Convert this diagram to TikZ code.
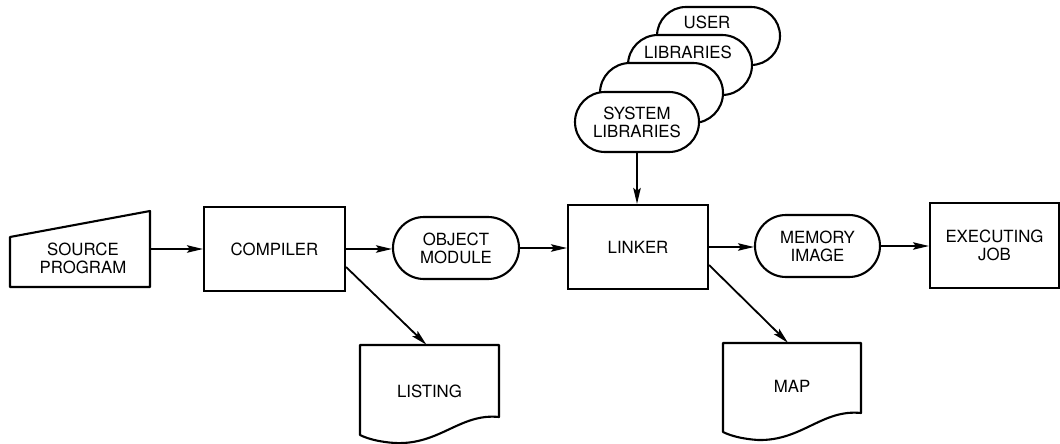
\documentclass[tikz,border=0pt]{standalone}
\usepackage{fontspec}
\setmainfont{TeX Gyre Heros}
\usetikzlibrary{shapes.misc,arrows.meta}
\begin{document}
\begin{tikzpicture}[x=1pt,y=-1pt,
  every node/.style={font=\fontsize{16.8}{18}\selectfont, align=center, inner sep=0pt},
  line/.style={line width=2.1pt, line join=round},
  procbox/.style={draw, line width=2.1pt, rectangle, minimum height=84pt},
  stadium/.style={draw, line width=2.1pt, rounded rectangle, minimum height=62pt, fill=white},
  libbox/.style={draw, line width=2.1pt, rounded rectangle, minimum height=60pt, fill=white},
  arr/.style={line width=1.8pt, -{Stealth[length=16pt,width=7.5pt,inset=3pt]}}]
\useasboundingbox (0,0) rectangle (1060,444);

% source program (manual input shape)
\node[minimum width=140pt, minimum height=76pt] (source) at (80,249) {};
\draw[line] (10,237) -- (150,211) -- (150,287) -- (10,287) -- cycle;
\node (sourcetxt) at (83,258) {SOURCE\\PROGRAM};

\node[procbox, minimum width=141pt] (compiler) at (274.5,249) {COMPILER};
\node[stadium, minimum width=126pt] (object) at (456,248) {OBJECT\\MODULE};
\node[procbox, minimum width=140pt] (linker) at (638,247) {LINKER};
\node[stadium, minimum width=125pt] (memory) at (817.5,246) {MEMORY\\IMAGE};
\node[procbox, minimum width=129pt, minimum height=85pt] (exec) at (994.5,245.5) {EXECUTING\\JOB};

% library stack (back to front)
\node[libbox, minimum width=123pt, minimum height=58pt] (userlib) at (718.5,36) {};
\node (usertxt) at (707,22.5) {USER};
\node[libbox, minimum width=124pt] (liblib) at (690,65) {};
\node (libtxt) at (688,52) {LIBRARIES};
\node[libbox, minimum width=123pt] (blanklib) at (661.5,93) {};
\node[libbox, minimum width=124pt] (syslib) at (637,122) {SYSTEM\\LIBRARIES};

% documents
\node[minimum width=139pt, minimum height=92pt] (listing) at (429.5,391) {LISTING};
\draw[line, shift={(360,345)}] (0,0) -- (139,0) -- (139,72)
  .. controls (100,68) and (80,100) .. (35,98)
  .. controls (20,97) and (8,94) .. (0,90) -- cycle;
\node[minimum width=138pt, minimum height=87pt] (map) at (792,386.5) {MAP};
\draw[line, shift={(723,343)}] (0,0) -- (138,0) -- (138,70)
  .. controls (99,66) and (79,98) .. (35,97)
  .. controls (20,96) and (8,93) .. (0,89) -- cycle;

% connectors
\draw[arr] (source.east) -- (compiler.west);
\draw[arr] (compiler.east) -- (compiler.east -| object.west);
\draw[arr] (object.east) -- (object.east -| linker.west);
\draw[arr] (syslib.south) -- (syslib.south |- linker.north);
\draw[arr] (linker.east) -- (linker.east -| memory.west);
\draw[arr] (memory.east) -- (memory.east -| exec.west);
\draw[arr] ([yshift=-18pt]compiler.east) -- ([xshift=-3pt]listing.north);
\draw[arr] ([yshift=-18pt]linker.east) -- ([xshift=-4pt]map.north);
\end{tikzpicture}
\end{document}
